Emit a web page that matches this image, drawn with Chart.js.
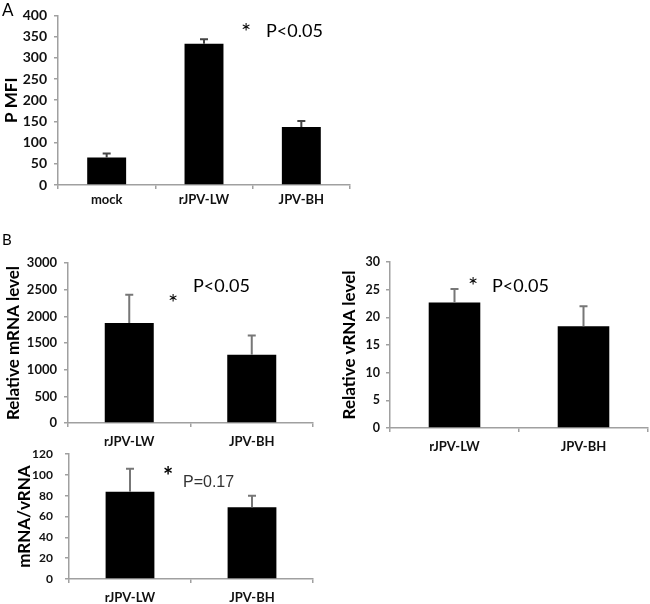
<!DOCTYPE html>
<html>
<head>
<meta charset="utf-8">
<script src="https://cdn.jsdelivr.net/npm/chart.js@4.4.1/dist/chart.umd.min.js"></script>
<style>
  body { margin: 0; background: #fff; }
  #wrap { position: relative; width: 650px; height: 604px; overflow: hidden; font-family: Lato, sans-serif; }
  canvas { position: absolute; }
  .note { position: absolute; line-height: 1; white-space: nowrap; color: #000; }
  .star { font-size: 24px; }
</style>
</head>
<body>
<div id="wrap">
  <canvas id="chartA" width="365" height="215" style="left:0;top:0"></canvas>
  <canvas id="chartMrna" width="330" height="210" style="left:0;top:240px"></canvas>
  <canvas id="chartVrna" width="320" height="220" style="left:330px;top:240px"></canvas>
  <canvas id="chartRatio" width="330" height="169" style="left:0;top:435px"></canvas>

  <div class="note" style="left:2px;top:1px;font-size:17px">A</div>
  <div class="note" style="left:2px;top:232px;font-size:15px">B</div>

  <div class="note star" style="left:241px;top:19px">*</div>
  <div class="note" style="left:266px;top:21px;font-size:18px">P&lt;0.05</div>

  <div class="note star" style="left:168px;top:290px">*</div>
  <div class="note" style="left:193px;top:276px;font-size:18px">P&lt;0.05</div>

  <div class="note star" style="left:468px;top:273px">*</div>
  <div class="note" style="left:492px;top:276px;font-size:18px">P&lt;0.05</div>

  <div class="note star" style="left:163px;top:464px;font-weight:bold">*</div>
  <div class="note" style="left:183px;top:474px;font-size:16px;font-family:'Liberation Sans',Arial,sans-serif;color:#333">P=0.17</div>
</div>
<script>
// panel A
const categoriesA = ['mock', 'rJPV-LW', 'JPV-BH'];
const pMfi = [65, 333, 137];
const pMfiErr = [9, 11, 14];
const ticksA = [0, 50, 100, 150, 200, 250, 300, 350, 400];

// panel B
const categoriesB = ['rJPV-LW', 'JPV-BH'];
const mrnaLevel = [1875, 1280];
const mrnaErr = [530, 360];
const ticksMrna = [0, 500, 1000, 1500, 2000, 2500, 3000];

const vrnaLevel = [22.7, 18.4];
const vrnaErr = [2.4, 3.6];
const ticksVrna = [0, 5, 10, 15, 20, 25, 30];

const ratio = [84, 69];
const ratioErr = [22, 11];
const ticksRatio = [0, 20, 40, 60, 80, 100, 120];

const AXIS = '#a0a0a0';
Chart.defaults.font.family = 'Lato, sans-serif';
Chart.defaults.color = '#111';

// upper whisker only, with a small cap
const errorBars = {
  id: 'errorBars',
  afterDatasetsDraw(chart) {
    const ctx = chart.ctx;
    const y = chart.scales.y;
    const ds = chart.data.datasets[0];
    const meta = chart.getDatasetMeta(0);
    ctx.save();
    ctx.strokeStyle = ds.errColor;
    ctx.lineWidth = 2;
    meta.data.forEach((bar, i) => {
      const top = y.getPixelForValue(ds.data[i] + ds.errors[i]);
      ctx.beginPath();
      ctx.moveTo(bar.x, bar.y);
      ctx.lineTo(bar.x, top);
      ctx.moveTo(bar.x - 4, top);
      ctx.lineTo(bar.x + 4, top);
      ctx.stroke();
    });
    ctx.restore();
  }
};

function makeChart(id, labels, values, errors, ticks, o) {
  return new Chart(document.getElementById(id), {
    type: 'bar',
    data: {
      labels: labels,
      datasets: [{
        data: values,
        errors: errors,
        errColor: o.errColor,
        backgroundColor: '#000',
        barPercentage: 0.4,
        categoryPercentage: 1
      }]
    },
    options: {
      responsive: false,
      animation: false,
      layout: { padding: { top: o.padTop, right: o.padRight, left: 0, bottom: 0 } },
      plugins: { legend: { display: false }, tooltip: { enabled: false } },
      scales: {
        x: {
          afterFit: s => { s.height = o.xHeight; },
          grid: { offset: true, drawOnChartArea: false, tickLength: 4, color: AXIS, lineWidth: 1.5 },
          border: { color: AXIS, width: 1.5 },
          ticks: { padding: o.xPad, color: '#111', font: { size: 13, weight: 'bold' } }
        },
        y: {
          min: ticks[0],
          max: ticks[ticks.length - 1],
          afterFit: s => { s.width = o.yWidth; },
          afterBuildTicks: s => { s.ticks = ticks.map(v => ({ value: v })); },
          grid: { drawOnChartArea: false, tickLength: 4, color: AXIS, lineWidth: 1.5 },
          border: { color: AXIS, width: 1.5 },
          ticks: {
            padding: o.yPad,
            color: '#111',
            font: { size: o.tickSize, weight: 'bold' },
            callback: v => String(v)
          },
          title: {
            display: true,
            text: o.title,
            color: '#000',
            font: { size: 17, weight: 'bold' },
            padding: { top: o.titlePad, bottom: 0 }
          }
        }
      }
    },
    plugins: [errorBars]
  });
}

makeChart('chartA', categoriesA, pMfi, pMfiErr, ticksA, {
  title: 'P MFI', padTop: 8, padRight: 15, yWidth: 58, xHeight: 30,
  xPad: 3, yPad: 7, tickSize: 14, titlePad: 1, errColor: '#444'
});
makeChart('chartMrna', categoriesB, mrnaLevel, mrnaErr, ticksMrna, {
  title: 'Relative mRNA level', padTop: 23, padRight: 17, yWidth: 68, xHeight: 27,
  xPad: 7, yPad: 7, tickSize: 13, titlePad: 3, errColor: '#777'
});
makeChart('chartVrna', categoriesB, vrnaLevel, vrnaErr, ticksVrna, {
  title: 'Relative vRNA level', padTop: 22, padRight: 2, yWidth: 60, xHeight: 32,
  xPad: 7, yPad: 6, tickSize: 12.5, titlePad: 9, errColor: '#777'
});
makeChart('chartRatio', categoriesB, ratio, ratioErr, ticksRatio, {
  title: 'mRNA/vRNA', padTop: 10, padRight: 17, yWidth: 69, xHeight: 25,
  xPad: 7, yPad: 12, tickSize: 12, titlePad: 14, errColor: '#777'
});
</script>
</body>
</html>
